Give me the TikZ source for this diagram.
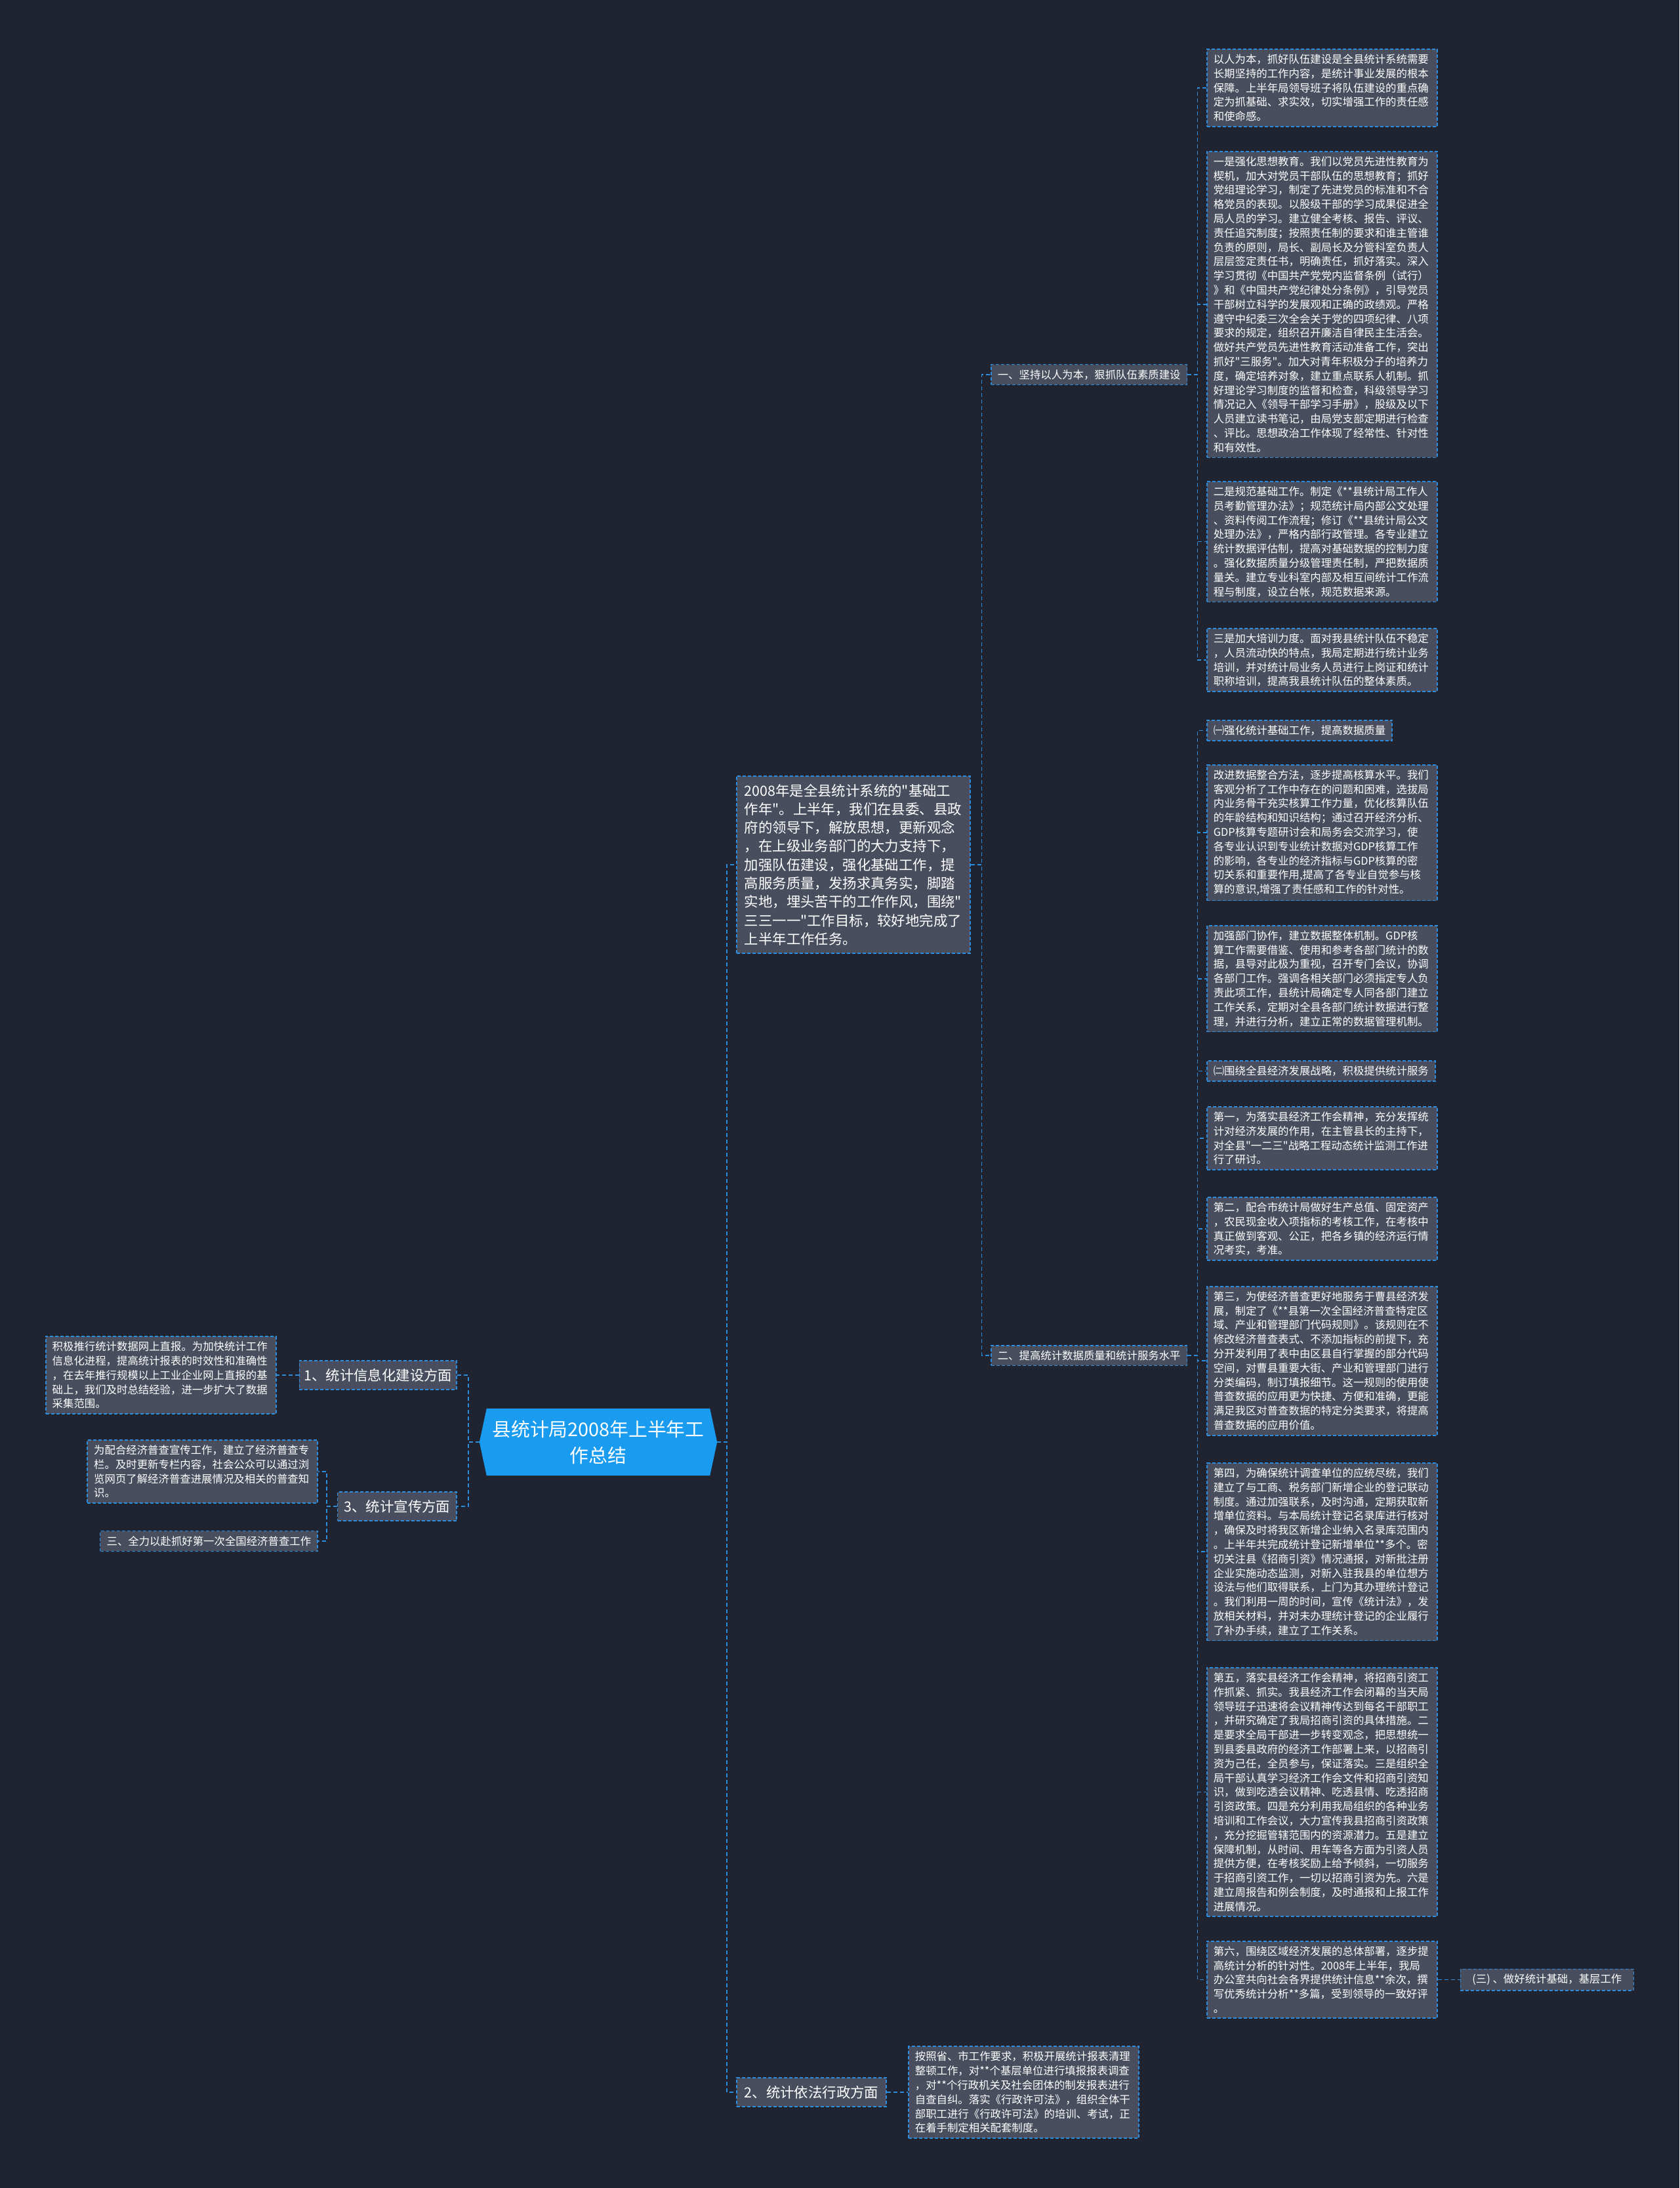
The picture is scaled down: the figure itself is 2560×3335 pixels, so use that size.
\documentclass[tikz,border=0pt]{standalone}
\usepackage{fontspec}
\newfontfamily\cjk{Noto Sans CJK SC}
\usetikzlibrary{positioning}
\pgfdeclarelayer{background}
\pgfsetlayers{background,main}
\definecolor{bgc}{RGB}{32,36,48}
\definecolor{boxfill}{RGB}{72,78,93}
\definecolor{lineblue}{RGB}{45,140,220}
\definecolor{centerblue}{RGB}{25,155,240}
\tikzset{
  tb/.style={draw=lineblue, line width=1.6pt, dash pattern=on 5pt off 3pt, fill=boxfill, text=white,
    font=\cjk\fontsize{16.4}{21.8}\selectfont, inner xsep=10pt, inner ysep=7.7pt, align=left},
  tbw/.style={tb, text width=331pt},
  big/.style={tb, font=\cjk\fontsize{21.4}{28.3}\selectfont, inner xsep=12pt, inner ysep=12pt},
  conn/.style={draw=lineblue, line width=1.6pt, dash pattern=on 6pt off 4pt},
}
\begin{document}
\begin{tikzpicture}[x=1pt,y=-1pt]
\useasboundingbox (0,0) rectangle (2560,3335);
% central node
\node[text=white, font=\cjk\fontsize{28.8}{40}\selectfont, align=center, minimum width=362pt, minimum height=102pt, inner sep=0pt] (c) at (912,2198) {县统计局2008年上半年工\\作总结};
% right column
\node[tbw, anchor=north west] (r1) at (1839,74) {以人为本，抓好队伍建设是全县统计系统需要\\长期坚持的工作内容，是统计事业发展的根本\\保障。上半年局领导班子将队伍建设的重点确\\定为抓基础、求实效，切实增强工作的责任感\\和使命感。};
\node[tbw, anchor=north west] (r2) at (1839,230) {一是强化思想教育。我们以党员先进性教育为\\楔机，加大对党员干部队伍的思想教育；抓好\\党组理论学习，制定了先进党员的标准和不合\\格党员的表现。以股级干部的学习成果促进全\\局人员的学习。建立健全考核、报告、评议、\\责任追究制度；按照责任制的要求和谁主管谁\\负责的原则，局长、副局长及分管科室负责人\\层层签定责任书，明确责任，抓好落实。深入\\学习贯彻《中国共产党党内监督条例（试行）\\》和《中国共产党纪律处分条例》，引导党员\\干部树立科学的发展观和正确的政绩观。严格\\遵守中纪委三次全会关于党的四项纪律、八项\\要求的规定，组织召开廉洁自律民主生活会。\\做好共产党员先进性教育活动准备工作，突出\\抓好"三服务"。加大对青年积极分子的培养力\\度，确定培养对象，建立重点联系人机制。抓\\好理论学习制度的监督和检查，科级领导学习\\情况记入《领导干部学习手册》，股级及以下\\人员建立读书笔记，由局党支部定期进行检查\\、评比。思想政治工作体现了经常性、针对性\\和有效性。};
\node[tbw, anchor=north west] (r3) at (1839,733) {二是规范基础工作。制定《**县统计局工作人\\员考勤管理办法》；规范统计局内部公文处理\\、资料传阅工作流程；修订《**县统计局公文\\处理办法》，严格内部行政管理。各专业建立\\统计数据评估制，提高对基础数据的控制力度\\。强化数据质量分级管理责任制，严把数据质\\量关。建立专业科室内部及相互间统计工作流\\程与制度，设立台帐，规范数据来源。};
\node[tbw, anchor=north west] (r4) at (1839,957) {三是加大培训力度。面对我县统计队伍不稳定\\，人员流动快的特点，我局定期进行统计业务\\培训，并对统计局业务人员进行上岗证和统计\\职称培训，提高我县统计队伍的整体素质。};
\node[tb, anchor=north west] (r5) at (1839,1097) {㈠强化统计基础工作，提高数据质量};
\node[tbw, anchor=north west] (r6) at (1839,1165) {改进数据整合方法，逐步提高核算水平。我们\\客观分析了工作中存在的问题和困难，选拔局\\内业务骨干充实核算工作力量，优化核算队伍\\的年龄结构和知识结构；通过召开经济分析、\\GDP核算专题研讨会和局务会交流学习，使\\各专业认识到专业统计数据对GDP核算工作\\的影响，各专业的经济指标与GDP核算的密\\切关系和重要作用,提高了各专业自觉参与核\\算的意识,增强了责任感和工作的针对性。};
\node[tbw, anchor=north west] (r7) at (1839,1410) {加强部门协作，建立数据整体机制。GDP核\\算工作需要借鉴、使用和参考各部门统计的数\\据，县导对此极为重视，召开专门会议，协调\\各部门工作。强调各相关部门必须指定专人负\\责此项工作，县统计局确定专人同各部门建立\\工作关系，定期对全县各部门统计数据进行整\\理，并进行分析，建立正常的数据管理机制。};
\node[tb, anchor=north west] (r8) at (1839,1616) {㈡围绕全县经济发展战略，积极提供统计服务};
\node[tbw, anchor=north west] (r9) at (1839,1686) {第一，为落实县经济工作会精神，充分发挥统\\计对经济发展的作用，在主管县长的主持下，\\对全县"一二三"战略工程动态统计监测工作进\\行了研讨。};
\node[tbw, anchor=north west] (r10) at (1839,1824) {第二，配合市统计局做好生产总值、固定资产\\，农民现金收入项指标的考核工作，在考核中\\真正做到客观、公正，把各乡镇的经济运行情\\况考实，考准。};
\node[tbw, anchor=north west] (r11) at (1839,1960) {第三，为使经济普查更好地服务于曹县经济发\\展，制定了《**县第一次全国经济普查特定区\\域、产业和管理部门代码规则》。该规则在不\\修改经济普查表式、不添加指标的前提下，充\\分开发利用了表中由区县自行掌握的部分代码\\空间，对曹县重要大街、产业和管理部门进行\\分类编码，制订填报细节。这一规则的使用使\\普查数据的应用更为快捷、方便和准确，更能\\满足我区对普查数据的特定分类要求，将提高\\普查数据的应用价值。};
\node[tbw, anchor=north west] (r12) at (1839,2229) {第四，为确保统计调查单位的应统尽统，我们\\建立了与工商、税务部门新增企业的登记联动\\制度。通过加强联系，及时沟通，定期获取新\\增单位资料。与本局统计登记名录库进行核对\\，确保及时将我区新增企业纳入名录库范围内\\。上半年共完成统计登记新增单位**多个。密\\切关注县《招商引资》情况通报，对新批注册\\企业实施动态监测，对新入驻我县的单位想方\\设法与他们取得联系，上门为其办理统计登记\\。我们利用一周的时间，宣传《统计法》，发\\放相关材料，并对未办理统计登记的企业履行\\了补办手续，建立了工作关系。};
\node[tbw, anchor=north west] (r13) at (1839,2541) {第五，落实县经济工作会精神，将招商引资工\\作抓紧、抓实。我县经济工作会闭幕的当天局\\领导班子迅速将会议精神传达到每名干部职工\\，并研究确定了我局招商引资的具体措施。二\\是要求全局干部进一步转变观念，把思想统一\\到县委县政府的经济工作部署上来，以招商引\\资为己任，全员参与，保证落实。三是组织全\\局干部认真学习经济工作会文件和招商引资知\\识，做到吃透会议精神、吃透县情、吃透招商\\引资政策。四是充分利用我局组织的各种业务\\培训和工作会议，大力宣传我县招商引资政策\\，充分挖掘管辖范围内的资源潜力。五是建立\\保障机制，从时间、用车等各方面为引资人员\\提供方便，在考核奖励上给予倾斜，一切服务\\于招商引资工作，一切以招商引资为先。六是\\建立周报告和例会制度，及时通报和上报工作\\进展情况。};
\node[tbw, anchor=north west] (r14) at (1839,2958) {第六，围绕区域经济发展的总体部署，逐步提\\高统计分析的针对性。2008年上半年，我局\\办公室共向社会各界提供统计信息**余次，撰\\写优秀统计分析**多篇，受到领导的一致好评\\。};
\node[tb, anchor=west, inner xsep=18pt] (s3) at ([xshift=34pt]r14.east) {(三) 、做好统计基础，基层工作};
% branches
\node[tb, anchor=west] (b1) at (1510,571) {一、坚持以人为本，狠抓队伍素质建设};
\node[tb, anchor=west] (b2) at (1510,2066) {二、提高统计数据质量和统计服务水平};
% right main
\node[big, text width=332pt, anchor=north west] (r0) at (1122,1182) {2008年是全县统计系统的"基础工\\作年"。上半年，我们在县委、县政\\府的领导下，解放思想，更新观念\\，在上级业务部门的大力支持下，\\加强队伍建设，强化基础工作，提\\高服务质量，发扬求真务实，脚踏\\实地，埋头苦干的工作作风，围绕"\\三三一一"工作目标，较好地完成了\\上半年工作任务。};
\node[big, anchor=west] (rr2) at (1122,3189) {2、统计依法行政方面};
\node[tbw, anchor=west] (rr2t) at ([xshift=32pt]rr2.east) {按照省、市工作要求，积极开展统计报表清理\\整顿工作，对**个基层单位进行填报报表调查\\，对**个行政机关及社会团体的制发报表进行\\自查自纠。落实《行政许可法》，组织全体干\\部职工进行《行政许可法》的培训、考试，正\\在着手制定相关配套制度。};
% left side
\node[big, anchor=east, inner xsep=7pt] (l1) at (697,2096) {1、统计信息化建设方面};
\node[tbw, anchor=east] (l1t) at ([xshift=-34pt]l1.west) {积极推行统计数据网上直报。为加快统计工作\\信息化进程，提高统计报表的时效性和准确性\\，在去年推行规模以上工业企业网上直报的基\\础上，我们及时总结经验，进一步扩大了数据\\采集范围。};
\node[big, anchor=east, inner xsep=10pt] (l3) at (697,2296) {3、统计宣传方面};
\node[tbw, anchor=north east] (l3a) at (485,2194) {为配合经济普查宣传工作，建立了经济普查专\\栏。及时更新专栏内容，社会公众可以通过浏\\览网页了解经济普查进展情况及相关的普查知\\识。};
\node[tb, anchor=east] (l3b) at (485,2349) {三、全力以赴抓好第一次全国经济普查工作};
% connectors
\draw[conn] (c.east) -- ++(15,0) |- (r0.west);
\draw[conn] (c.east) -- ++(15,0) |- (rr2.west);
\draw[conn] (c.west) -- ++(-17,0) |- (l1.east);
\draw[conn] (c.west) -- ++(-17,0) |- (l3.east);
\draw[conn] (l1.west) -- (l1t.east);
\draw[conn] (l3.west) -- ++(-16,0) |- (l3a.east);
\draw[conn] (l3.west) -- ++(-16,0) |- (l3b.east);
\draw[conn] (r0.east) -- ++(17,0) |- (b1.west);
\draw[conn] (r0.east) -- ++(17,0) |- (b2.west);
\foreach \i in {1,...,4} {\draw[conn] (b1.east) -- ++(15,0) |- (r\i.west);}
\foreach \i in {5,...,14} {\draw[conn] (b2.east) -- ++(15,0) |- (r\i.west);}
\draw[conn] (r14.east) -- (s3.west);
\draw[conn] (rr2.east) -- (rr2t.west);
\begin{pgfonlayer}{background}
\fill[bgc] (0,0) rectangle (2560,3335);
\fill[centerblue] ([xshift=11pt]c.north west) -- ([xshift=-11pt]c.north east) -- (c.east) -- ([xshift=-11pt]c.south east) -- ([xshift=11pt]c.south west) -- (c.west) -- cycle;
\end{pgfonlayer}
\end{tikzpicture}
\end{document}
